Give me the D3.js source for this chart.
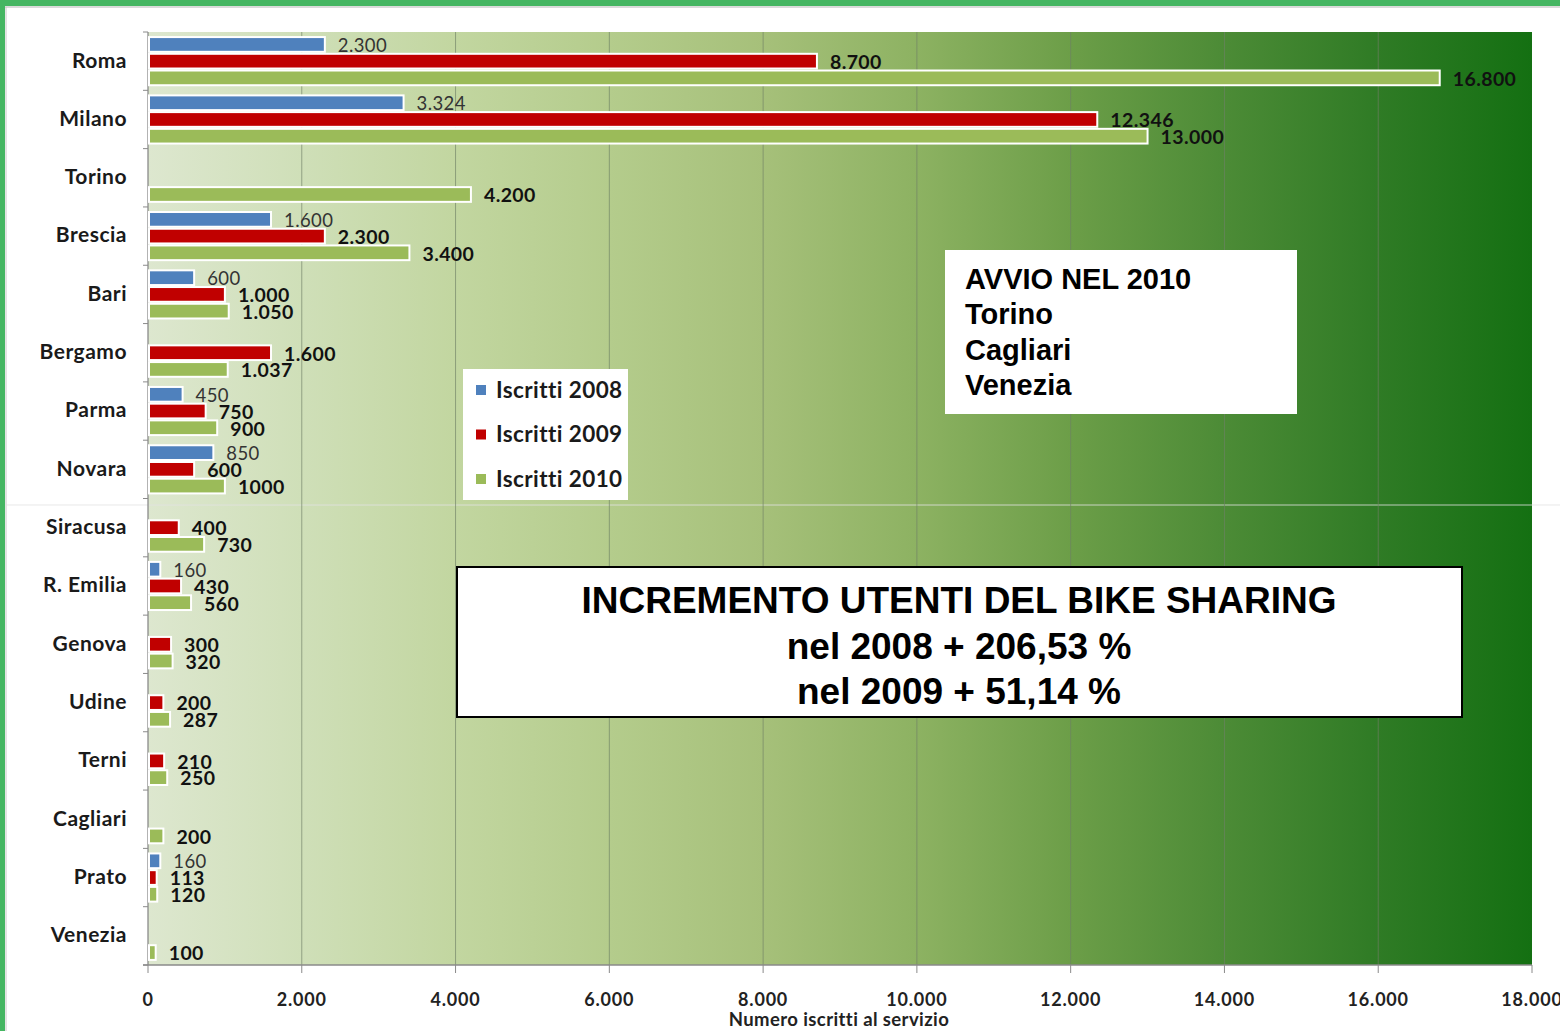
<!DOCTYPE html>
<html>
<head>
<meta charset="utf-8">
<script src="https://cdn.jsdelivr.net/npm/d3@7"></script>
<style>
  body { margin: 0; background: #fff; }
  svg { display: block; }
</style>
</head>
<body>
<div id="chart"></div>
<script>
// categories and values (null = service not active that year)
const cities = ["Roma", "Milano", "Torino", "Brescia", "Bari", "Bergamo", "Parma", "Novara",
    "Siracusa", "R. Emilia", "Genova", "Udine", "Terni", "Cagliari", "Prato", "Venezia"]
const series = ["Iscritti 2008", "Iscritti 2009", "Iscritti 2010"]
const iscritti2008 = [2300, 3324, null, 1600, 600, null, 450, 850, null, 160, null, null, null, null, 160, null]
const iscritti2009 = [8700, 12346, null, 2300, 1000, 1600, 750, 600, 400, 430, 300, 200, 210, null, 113, null]
const iscritti2010 = [16800, 13000, 4200, 3400, 1050, 1037, 900, 1000, 730, 560, 320, 287, 250, 200, 120, 100]
const xTicks = [0, 2000, 4000, 6000, 8000, 10000, 12000, 14000, 16000, 18000]
const colors = ["#4f81bd", "#c00000", "#9bbb59"]
const avvioLines = ["AVVIO NEL 2010", "Torino", "Cagliari", "Venezia"]
const titleLines = ["INCREMENTO UTENTI DEL BIKE SHARING", "nel 2008 + 206,53 %", "nel 2009 + 51,14 %"]

var W = 1560, H = 1031
var margin = {top: 32, left: 148, right: 28, bottom: 66}
var sans = "Lato, 'Open Sans', sans-serif"

var svg = d3.select("#chart").append("svg")
    .attr("width", W)
    .attr("height", H)

// italian number format, the source shows Novara 2010 as plain "1000"
var it = d3.formatLocale({decimal: ",", thousands: ".", grouping: [3], currency: ["€", ""]})
var fmt = it.format(",d")
function labelText(v, ci, si) {
    if (cities[ci] == "Novara" && si == 2) return String(v)
    return fmt(v)
}

var x = d3.scaleLinear().domain([0, 18000]).range([margin.left, W - margin.right])
var y0 = d3.scaleBand().domain(cities).range([margin.top, H - margin.bottom])
    .paddingInner(0.14).paddingOuter(0.07)
var y1 = d3.scaleBand().domain(series).range([0, y0.bandwidth()])

// background gradient of the plot area
var defs = svg.append("defs")
var grad = defs.append("linearGradient").attr("id", "bg").attr("x1", "0%").attr("x2", "100%")
var stops = ["#dde7cf", "#cfdfb8", "#c2d6a0", "#b4cc8c", "#a6c07a", "#8db262", "#6c9e48", "#4c8b36", "#2f7b25", "#147012"]
stops.forEach(function(c, i) {
    grad.append("stop").attr("offset", (i / (stops.length - 1) * 100) + "%").attr("stop-color", c)
})

svg.append("rect").attr("x", x(0)).attr("y", margin.top)
    .attr("width", x(18000) - x(0)).attr("height", H - margin.bottom - margin.top)
    .attr("fill", "url(#bg)")

// outer frame
svg.append("rect").attr("x", 0).attr("y", 0).attr("width", W).attr("height", 6).attr("fill", "#45b662")
svg.append("rect").attr("x", 0).attr("y", 0).attr("width", 5).attr("height", H).attr("fill", "#45b662")
svg.append("line").attr("x1", 5).attr("x2", W).attr("y1", 7).attr("y2", 7).attr("stroke", "#b5b5b5")
svg.append("line").attr("x1", 6).attr("x2", 6).attr("y1", 7).attr("y2", H).attr("stroke", "#c8c8c8")
svg.append("line").attr("x1", 6).attr("x2", W).attr("y1", 505).attr("y2", 505)
    .attr("stroke", "#e2e2e2").attr("stroke-opacity", 0.8)

// gridlines
svg.append("g").selectAll("line").data(xTicks.slice(1, -1)).enter().append("line")
    .attr("x1", d => x(d)).attr("x2", d => x(d))
    .attr("y1", margin.top).attr("y2", H - margin.bottom)
    .attr("stroke", "#6f7f66").attr("stroke-opacity", 0.65)

// axes
var bottom = H - margin.bottom
svg.append("line").attr("x1", x(0) - 5).attr("x2", x(18000)).attr("y1", bottom).attr("y2", bottom)
    .attr("stroke", "#8a8a8a").attr("stroke-width", 1.3)
svg.append("line").attr("x1", x(0)).attr("x2", x(0)).attr("y1", margin.top).attr("y2", bottom)
    .attr("stroke", "#8a8a8a").attr("stroke-width", 1.3)
svg.append("g").selectAll("line").data(xTicks).enter().append("line")
    .attr("x1", d => x(d)).attr("x2", d => x(d)).attr("y1", bottom).attr("y2", bottom + 8)
    .attr("stroke", "#8a8a8a")
var bounds = d3.range(cities.length + 1).map(i => margin.top + i * y0.step())
svg.append("g").selectAll("line").data(bounds).enter().append("line")
    .attr("x1", x(0) - 5).attr("x2", x(0)).attr("y1", d => d).attr("y2", d => d)
    .attr("stroke", "#8a8a8a")

svg.append("g").selectAll("text").data(xTicks).enter().append("text")
    .attr("x", d => x(d)).attr("y", bottom + 41)
    .attr("text-anchor", "middle")
    .style("font", "bold 18px " + sans).style("letter-spacing", "0.8px").style("fill", "#222")
    .text(d => fmt(d))

svg.append("text").attr("x", 839).attr("y", bottom + 61)
    .attr("text-anchor", "middle")
    .style("font", "bold 18.5px " + sans).style("letter-spacing", "0.4px").style("fill", "#222")
    .text("Numero iscritti al servizio")

// category labels
svg.append("g").selectAll("text").data(cities).enter().append("text")
    .attr("x", 127).attr("y", d => y0(d) + y0.bandwidth() / 2 - 1)
    .attr("dy", "0.35em").attr("text-anchor", "end")
    .style("font", "bold 21px " + sans).style("letter-spacing", "0.5px").style("fill", "#1a1a1a")
    .text(d => d)

// bars
var rows = []
cities.forEach(function(c, ci) {
    [iscritti2008, iscritti2009, iscritti2010].forEach(function(arr, si) {
        if (arr[ci] != null) rows.push({city: c, ci: ci, si: si, value: arr[ci]})
    })
})

var group = svg.append("g")
group.selectAll("rect").data(rows).enter().append("rect")
    .attr("x", x(0) + 1)
    .attr("y", d => y0(d.city) + y1(series[d.si]) + 1)
    .attr("width", d => Math.max(1, x(d.value) - x(0) - 1))
    .attr("height", y1.bandwidth() - 2)
    .attr("fill", d => colors[d.si])
    .attr("stroke", "#ffffff").attr("stroke-width", 2)

group.selectAll("text").data(rows).enter().append("text")
    .attr("x", d => x(d.value) + 13)
    .attr("y", d => y0(d.city) + y1(series[d.si]) + y1.bandwidth() / 2 + 1)
    .attr("dy", "0.35em")
    .style("font", d => d.si == 0 ? "18.5px " + sans : "bold 19.5px " + sans)
    .style("letter-spacing", "0.4px")
    .style("fill", d => d.si == 0 ? "#333" : "#111")
    .text(d => labelText(d.value, d.ci, d.si))

// legend
var legend = svg.append("g").attr("transform", "translate(463,369)")
legend.append("rect").attr("width", 165).attr("height", 131).attr("fill", "#fff")
series.forEach(function(s, i) {
    legend.append("rect").attr("x", 13).attr("y", 16 + i * 44.5).attr("width", 10).attr("height", 10)
        .attr("fill", colors[i])
    legend.append("text").attr("x", 33).attr("y", 21 + i * 44.5).attr("dy", "0.35em")
        .style("font", "bold 22.5px " + sans).style("letter-spacing", "0.4px").style("fill", "#1a1a1a")
        .text(s)
})

// "AVVIO NEL 2010" box
var avvio = svg.append("g").attr("transform", "translate(945,250)")
avvio.append("rect").attr("width", 352).attr("height", 164).attr("fill", "#fff")
avvio.selectAll("text").data(avvioLines).enter().append("text")
    .attr("x", 20).attr("y", (d, i) => 39 + i * 35.3)
    .style("font", "bold 29px 'Liberation Sans', Arial, sans-serif").style("fill", "#000")
    .text(d => d)

// big title box
var tbox = svg.append("g").attr("transform", "translate(457,567)")
tbox.append("rect").attr("width", 1005).attr("height", 150).attr("fill", "#fff")
    .attr("stroke", "#000").attr("stroke-width", 2)
tbox.selectAll("text").data(titleLines).enter().append("text")
    .attr("x", 502).attr("y", (d, i) => 46 + i * 45.5)
    .attr("text-anchor", "middle")
    .style("font", "bold 37px 'Liberation Sans', Arial, sans-serif").style("fill", "#000")
    .text(d => d)
</script>
</body>
</html>
